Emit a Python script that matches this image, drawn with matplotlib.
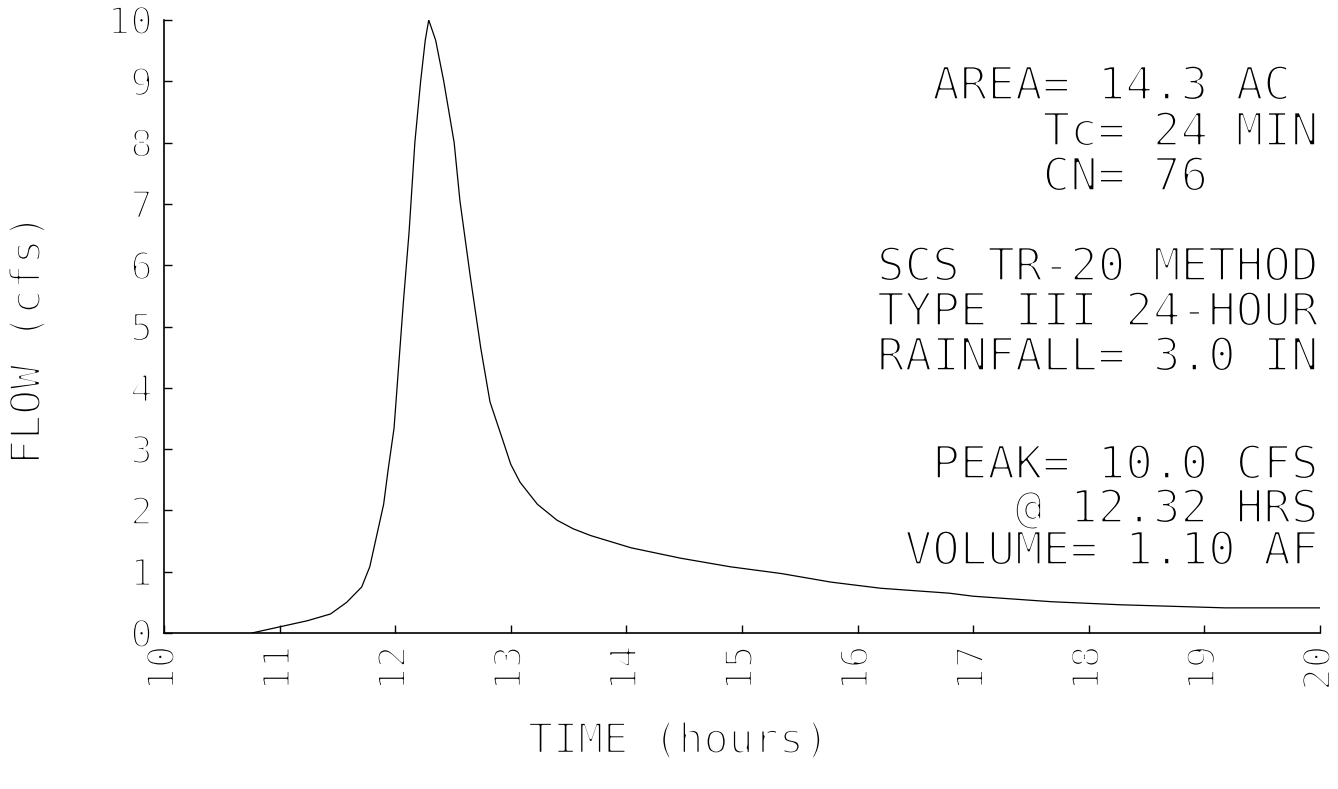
import matplotlib
matplotlib.use("Agg")
import matplotlib.pyplot as plt
import matplotlib.patheffects as pe

# hidrograma (horas, cfs)
hours = [10.76, 11.0, 11.24, 11.44, 11.58, 11.71, 11.78, 11.84, 11.9, 11.94, 11.99,
         12.03, 12.07, 12.12, 12.17, 12.22, 12.26, 12.29, 12.35, 12.42, 12.51, 12.56,
         12.65, 12.74, 12.82, 12.93, 13.0, 13.08, 13.23, 13.4, 13.54, 13.69, 14.04,
         14.47, 14.9, 15.34, 15.77, 16.2, 16.79, 17.0, 17.68, 18.28, 19.18, 20.0]
flow = [0.0, 0.1, 0.2, 0.31, 0.5, 0.75, 1.08, 1.59, 2.1, 2.68, 3.34,
        4.36, 5.38, 6.54, 8.0, 9.0, 9.67, 10.0, 9.67, 9.0, 8.0, 7.05,
        5.81, 4.65, 3.77, 3.15, 2.75, 2.46, 2.1, 1.84, 1.7, 1.59, 1.39,
        1.22, 1.08, 0.97, 0.83, 0.73, 0.65, 0.6, 0.51, 0.46, 0.41, 0.41]

x_ticks = list(range(10, 21))
y_ticks = list(range(0, 11))

# bloque de texto (lineas, con espacios como en la salida original)
info_lines = ["  AREA= 14.3 AC", "      Tc= 24 MIN", "      CN= 76",
              "SCS TR-20 METHOD", "TYPE III 24-HOUR", "RAINFALL= 3.0 IN",
              "  PEAK= 10.0 CFS", "     @ 12.32 HRS", " VOLUME= 1.10 AF"]
info_y = [87, 133, 178, 268, 313, 358, 466, 510, 552]  # pixeles desde arriba

W, H = 1338, 789
mono = "DejaVu Sans Mono"
thin = [pe.Stroke(linewidth=1.8, foreground="white")]

fig = plt.figure(figsize=(W / 100, H / 100), dpi=100)
ax = fig.add_axes([164 / W, 1 - 633 / H, (1320 - 164) / W, (633 - 20) / H])

ax.plot(hours, flow, color="black", lw=0.9)

ax.set_xlim(10, 20)
ax.set_ylim(0, 10)
ax.spines["top"].set_visible(False)
ax.spines["right"].set_visible(False)
ax.spines["left"].set_linewidth(1.2)
ax.spines["bottom"].set_linewidth(1.2)

ax.set_xticks(x_ticks)
ax.set_yticks(y_ticks)
ax.set_xticklabels([str(v) for v in x_ticks], rotation=90, family=mono, fontsize=27)
ax.set_yticklabels([str(v) for v in y_ticks], family=mono, fontsize=27)
ax.tick_params(axis="both", direction="in", length=6, width=1.0)
ax.tick_params(axis="x", pad=9)
ax.tick_params(axis="y", pad=8)
for lab in ax.get_xticklabels() + ax.get_yticklabels():
    lab.set_path_effects(thin)

ax.set_xlabel("TIME (hours)", family=mono, fontsize=30, path_effects=thin,
              ha="center", va="center")
ax.xaxis.set_label_coords((678 - 164) / 1156, (633 - 741) / 613)
ax.set_ylabel("FLOW (cfs)", family=mono, fontsize=30, path_effects=thin,
              ha="center", va="center")
ax.yaxis.set_label_coords((28 - 164) / 1156, (633 - 340) / 613)

for s, yp in zip(info_lines, info_y):
    fig.text(877 / W, 1 - yp / H, s, family=mono, fontsize=33,
             ha="left", va="center", path_effects=thin)

fig.savefig("out.png", dpi=100)
